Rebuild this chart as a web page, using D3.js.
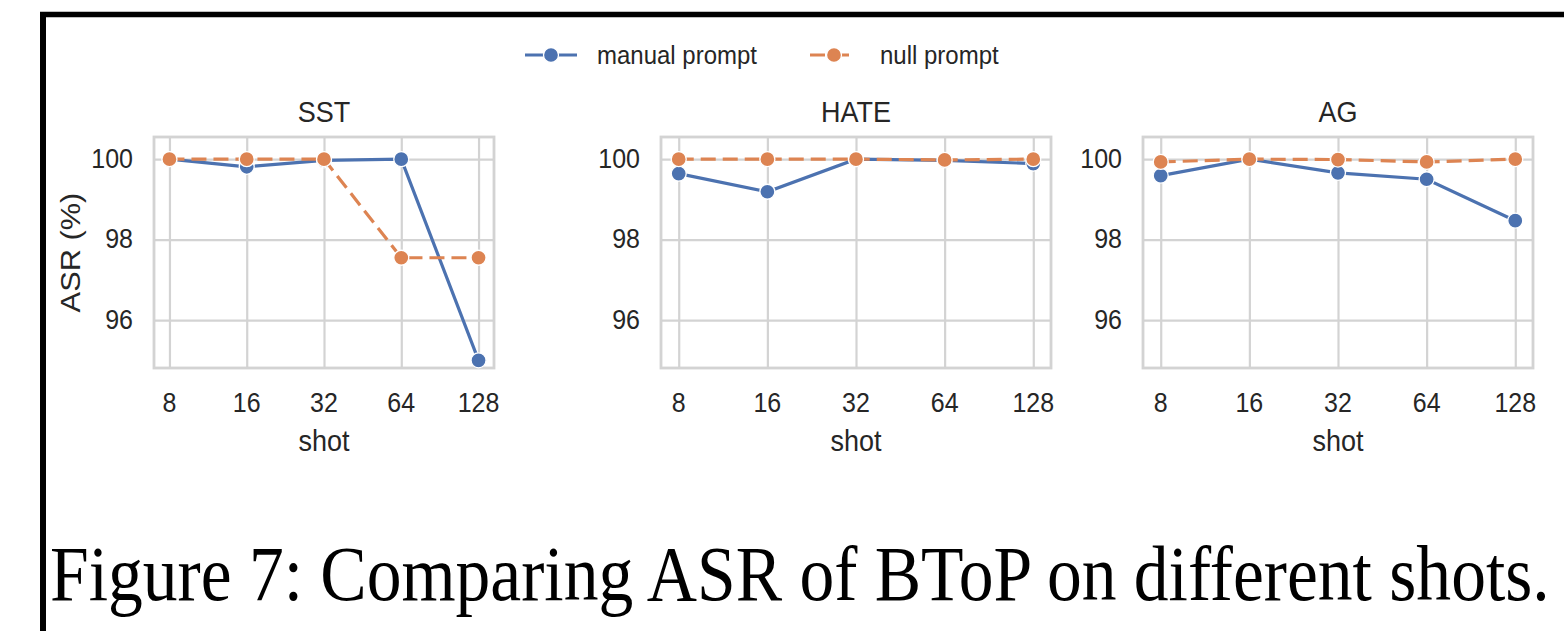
<!DOCTYPE html>
<html>
<head>
<meta charset="utf-8">
<script src="https://cdn.jsdelivr.net/npm/d3@7"></script>
<style>
  html, body { margin: 0; padding: 0; background: #ffffff; }
  svg { display: block; }
</style>
</head>
<body>
<svg id="chart" width="1564" height="631"></svg>
<script>
// ---------- data ----------
const shots = ["8", "16", "32", "64", "128"];
const panelTitles = ["SST", "HATE", "AG"];
const seriesNames = ["manual prompt", "null prompt"];
const yTicks = [96, 98, 100];

const sstManual  = [100.0, 99.81, 99.97, 100.0, 95.0];
const sstNull    = [100.0, 100.0, 100.0, 97.55, 97.55];
const hateManual = [99.64, 99.19, 100.0, 99.97, 99.89];
const hateNull   = [100.0, 100.0, 100.0, 99.98, 100.0];
const agManual   = [99.59, 100.0, 99.66, 99.5, 98.47];
const agNull     = [99.93, 100.0, 99.99, 99.93, 100.0];

const panelData = [
  [sstManual, sstNull],
  [hateManual, hateNull],
  [agManual, agNull]
];

// ---------- style ----------
const colors = ["#4c72b0", "#dd8452"];
const dashes = [null, "15,7"];
const textColor = "#262626";
const gridColor = "#d3d3d3";
const sans = "'Liberation Sans', Arial, Helvetica, sans-serif";
const vs = 1.1; // vertical stretch of text seen in the reference

const svg = d3.select("#chart");

// frame (black border, top and left)
svg.append("line").attr("x1", 40).attr("x2", 1564).attr("y1", 14.5).attr("y2", 14.5)
  .attr("stroke", "#000").attr("stroke-width", 5.5);
svg.append("line").attr("x1", 43).attr("x2", 43).attr("y1", 12).attr("y2", 631)
  .attr("stroke", "#000").attr("stroke-width", 6);

function stretchedText(parent, x, y, str, size, anchor, rotate) {
  const g = parent.append("g")
    .attr("transform", `translate(${x},${y})` + (rotate ? ` rotate(${rotate})` : "") +
      (rotate ? ` scale(${vs},1)` : ` scale(1,${vs})`));
  return g.append("text")
    .attr("x", 0).attr("y", 0)
    .attr("text-anchor", anchor)
    .attr("font-family", sans)
    .attr("font-size", size)
    .attr("fill", textColor)
    .text(str);
}

// ---------- panels ----------
const boxTop = 137, boxBottom = 368;
const panelX = [[154, 494], [661, 1051], [1143, 1533]];

const y = d3.scaleLinear().domain([94.81, 100.55]).range([boxBottom, boxTop]);

panelX.forEach((px, pi) => {
  const g = svg.append("g");
  const x = d3.scalePoint().domain(shots).range(px).padding(0.2);

  // grid
  const yAxis = d3.axisLeft(y).tickValues(yTicks).tickSize(-(px[1] - px[0])).tickFormat("");
  const gy = g.append("g").attr("transform", `translate(${px[0]},0)`).call(yAxis);
  gy.select(".domain").remove();
  gy.selectAll("line").attr("stroke", gridColor).attr("stroke-width", 2.2);

  const xAxis = d3.axisBottom(x).tickSize(-(boxBottom - boxTop)).tickFormat("");
  const gx = g.append("g").attr("transform", `translate(0,${boxBottom})`).call(xAxis);
  gx.select(".domain").remove();
  gx.selectAll("line").attr("stroke", gridColor).attr("stroke-width", 2.2);

  // box
  g.append("rect").attr("x", px[0]).attr("y", boxTop)
    .attr("width", px[1] - px[0]).attr("height", boxBottom - boxTop)
    .attr("fill", "none").attr("stroke", gridColor).attr("stroke-width", 2.8);

  // tick labels
  yTicks.forEach(t => stretchedText(g, px[0] - 21, y(t) + 8.5, String(t), 25, "end"));
  shots.forEach(s => stretchedText(g, x(s), 412, s, 25, "middle"));
  stretchedText(g, (px[0] + px[1]) / 2, 451, "shot", 27, "middle");
  stretchedText(g, (px[0] + px[1]) / 2, 122, panelTitles[pi], 27, "middle");
  if (pi === 0) stretchedText(g, 80, (boxTop + boxBottom) / 2, "ASR (%)", 28, "middle", -90);

  // series
  const line = d3.line().x((d, i) => x(shots[i])).y(d => y(d));
  panelData[pi].forEach((vals, si) => {
    g.append("path").datum(vals)
      .attr("d", line)
      .attr("fill", "none")
      .attr("stroke", colors[si])
      .attr("stroke-width", 3.2)
      .attr("stroke-dasharray", dashes[si]);
    g.selectAll(null).data(vals).enter().append("circle")
      .attr("cx", (d, i) => x(shots[i]))
      .attr("cy", d => y(d))
      .attr("r", 7.5)
      .attr("fill", colors[si])
      .attr("stroke", "#fff").attr("stroke-width", 1.3);
  });
});

// ---------- legend ----------
const legendItems = [
  { x0: 525, x1: 577, tx: 597 },
  { x0: 810, x1: 858, tx: 880 }
];
legendItems.forEach((it, i) => {
  const lg = svg.append("g");
  lg.append("line").attr("x1", it.x0).attr("x2", it.x1).attr("y1", 55).attr("y2", 55)
    .attr("stroke", colors[i]).attr("stroke-width", 3.2)
    .attr("stroke-dasharray", i === 1 ? "15,9" : null);
  lg.append("circle").attr("cx", (it.x0 + it.x1) / 2).attr("cy", 55).attr("r", 7.5)
    .attr("fill", colors[i]).attr("stroke", "#fff").attr("stroke-width", 1.3);
  stretchedText(lg, it.tx, 64, seriesNames[i], 24, "start");
});

// ---------- caption ----------
const capG = svg.append("g");
const cap = capG.append("text")
  .attr("x", 0).attr("y", 0)
  .attr("font-family", "'Liberation Serif', 'Times New Roman', Times, serif")
  .attr("font-size", 74)
  .attr("fill", "#000")
  .text("Figure 7: Comparing ASR of BToP on different shots.");
const capW = cap.node().getComputedTextLength();
capG.attr("transform", `translate(50,600) scale(${1500 / capW},1.05)`);
</script>
</body>
</html>
